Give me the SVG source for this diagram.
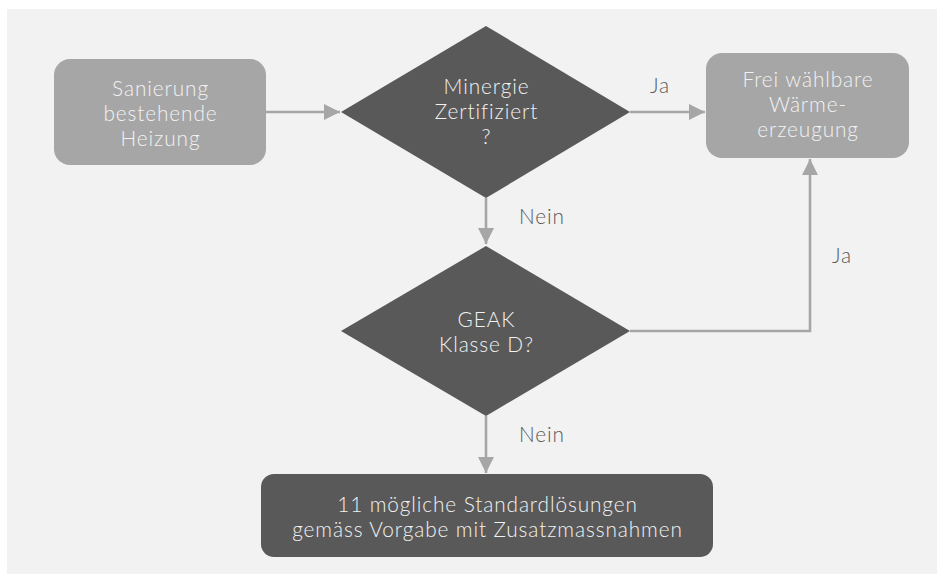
<svg xmlns="http://www.w3.org/2000/svg" width="941" height="577" viewBox="0 0 941 577">
<style>
.bg{fill:#f2f2f2}
.light{fill:#a6a6a6}
.dark{fill:#595959}
.t{font-family:Lato,"Open Sans","Liberation Sans",sans-serif;font-size:20.8px;font-weight:300;letter-spacing:0.9px;fill:#f2f2f2;text-anchor:middle}
.lbl{font-family:Lato,"Open Sans","Liberation Sans",sans-serif;font-size:20.8px;font-weight:300;letter-spacing:0.9px;fill:#595959}
.c{fill:none;stroke:#a6a6a6;stroke-width:2.6}
</style>
<defs>
<marker id="ah" markerUnits="userSpaceOnUse" markerWidth="18" markerHeight="16" refX="16" refY="8" orient="auto">
<path d="M0,0 L16,8 L0,16 Z" fill="#a6a6a6"/>
</marker>
</defs>
<rect class="bg" x="7" y="9" width="930" height="565"/>
<g id="connectors">
<path class="c" d="M266,112 H340" marker-end="url(#ah)"/>
<path class="c" d="M630,112 H705" marker-end="url(#ah)"/>
<path class="c" d="M486,198 V244" marker-end="url(#ah)"/>
<path class="c" d="M630,331 H810 V159" marker-end="url(#ah)"/>
<path class="c" d="M486,416 V473" marker-end="url(#ah)"/>
<text class="lbl" x="650" y="93">Ja</text>
<text class="lbl" x="519" y="224">Nein</text>
<text class="lbl" x="832" y="263">Ja</text>
<text class="lbl" x="519" y="442">Nein</text>
</g>
<g id="sanierung">
<rect class="light" x="54" y="59" width="212" height="106" rx="16"/>
<text class="t" x="160.5" y="96">Sanierung</text>
<text class="t" x="160.5" y="121">bestehende</text>
<text class="t" x="160.5" y="146">Heizung</text>
</g>
<g id="minergie">
<polygon class="dark" points="486,26 630,112 486,198 341,112"/>
<text class="t" x="486.5" y="94">Minergie</text>
<text class="t" x="486.5" y="119">Zertifiziert</text>
<text class="t" x="486.5" y="144">?</text>
</g>
<g id="frei">
<rect class="light" x="706" y="53" width="203" height="105" rx="16"/>
<text class="t" x="808" y="87">Frei wählbare</text>
<text class="t" x="808" y="112">Wärme-</text>
<text class="t" x="808" y="137">erzeugung</text>
</g>
<g id="geak">
<polygon class="dark" points="486,246 630,331 486,416 341,331"/>
<text class="t" x="486.5" y="327">GEAK</text>
<text class="t" x="486.5" y="352">Klasse D?</text>
</g>
<g id="standard">
<rect class="dark" x="261" y="474" width="452" height="83" rx="13"/>
<text class="t" x="487.5" y="512">11 mögliche Standardlösungen</text>
<text class="t" x="487.5" y="537">gemäss Vorgabe mit Zusatzmassnahmen</text>
</g>
</svg>
